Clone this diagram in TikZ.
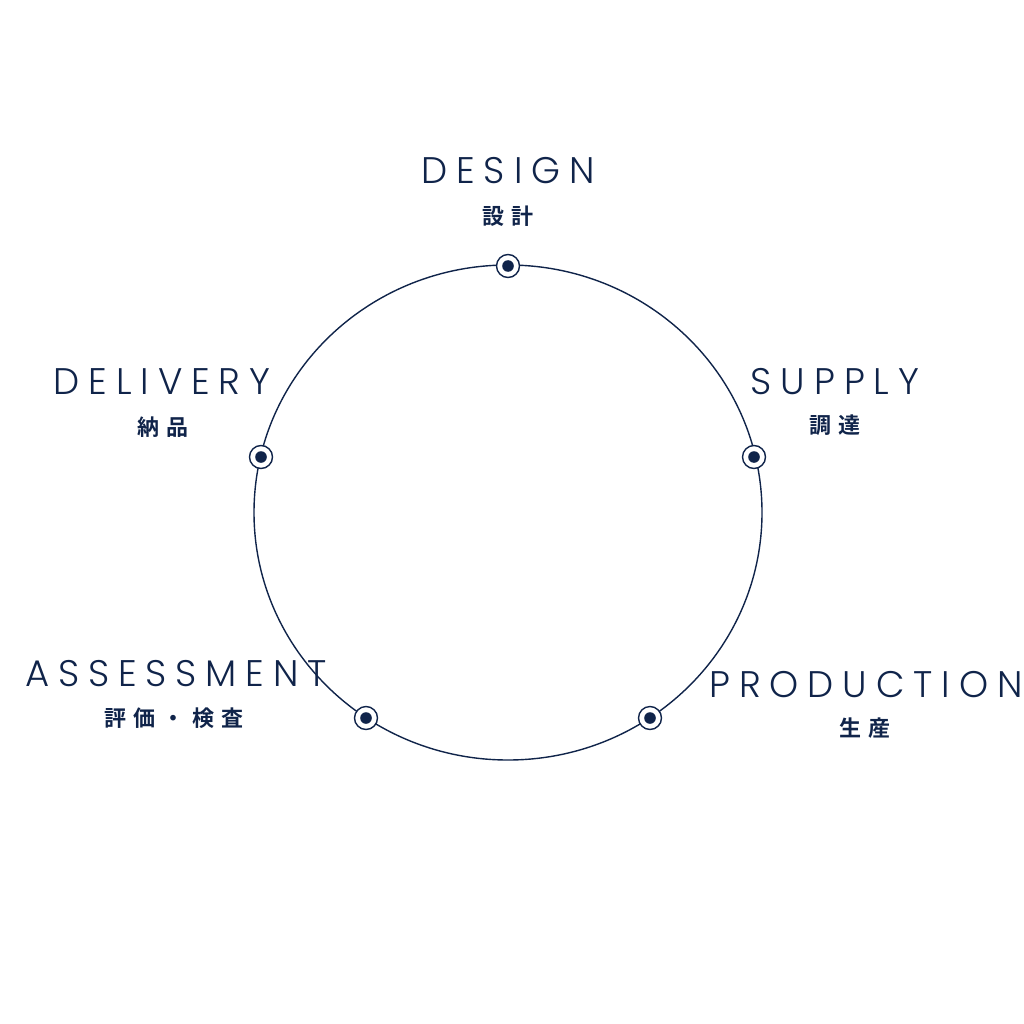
\documentclass[tikz,border=0pt]{standalone}
\usepackage{fontspec}
\setmainfont{Poppins Light}
\newfontfamily\jpfont{Noto Sans CJK JP}[BoldFont={* Bold}]
\definecolor{navy}{HTML}{10244A}
\begin{document}
\begin{tikzpicture}[x=1pt,y=-1pt,
  en/.style={text=navy,font=\fontsize{37}{40}\selectfont\addfontfeatures{LetterSpace=24},anchor=base,inner sep=0pt},
  jp/.style={text=navy,font=\jpfont\bfseries\fontsize{22}{24}\selectfont\addfontfeatures{LetterSpace=34},anchor=center,inner sep=0pt},
  mk/.style={circle,draw=navy,line width=1.4pt,fill=white,minimum size=23pt,inner sep=0pt,
    path picture={\fill[navy] (path picture bounding box.center) circle (5.8pt);}}]
\useasboundingbox (0,0) rectangle (1024,1024);
\draw[navy,line width=1.4pt] (508,512.5) ellipse [x radius=254,y radius=247.5];
\node[mk] (m1) at (508,266) {};
\node[mk] (m2) at (754,457) {};
\node[mk] (m3) at (650,718) {};
\node[mk] (m4) at (366,718) {};
\node[mk] (m5) at (261,457) {};
\node[en] (t1) at (508,184) {DESIGN};
\node[jp] (j1) at (508,216) {設計};
\node[en] (t2) at (835,394) {SUPPLY};
\node[jp] (j2) at (835,425) {調達};
\node[en] (t3) at (866,697) {PRODUCTION};
\node[jp] (j3) at (865,728) {生産};
\node[en] (t4) at (176,686) {ASSESSMENT};
\node[jp] (j4) at (174,718) {評価・検査};
\node[en] (t5) at (162,394) {DELIVERY};
\node[jp] (j5) at (163,427) {納品};
\end{tikzpicture}
\end{document}
